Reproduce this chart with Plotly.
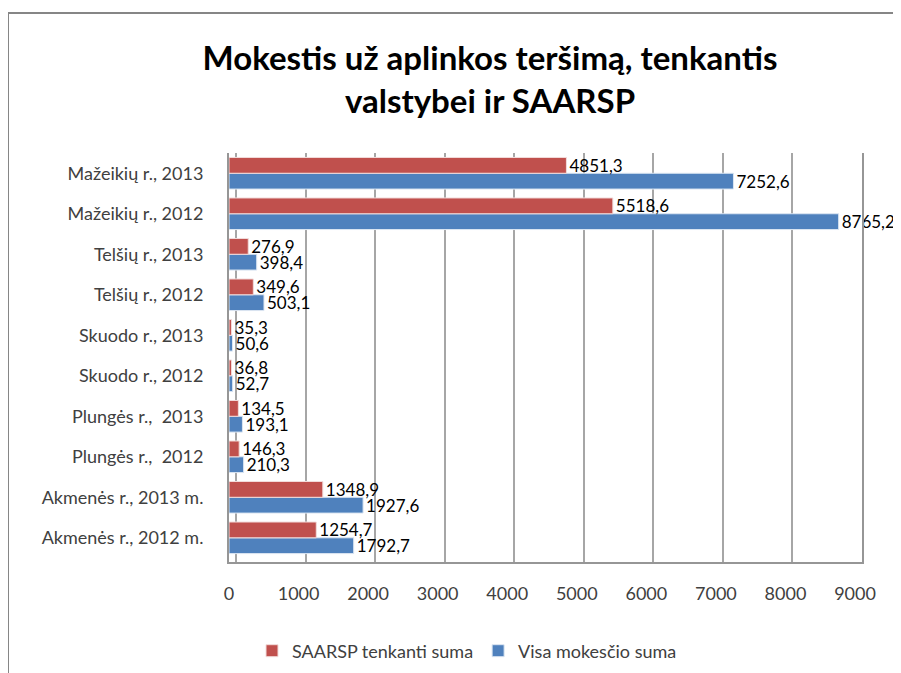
import plotly.graph_objects as go

categories = [
    "Akmenės r., 2012 m.", "Akmenės r., 2013 m.",
    "Plungės r.,  2012", "Plungės r.,  2013",
    "Skuodo r., 2012", "Skuodo r., 2013",
    "Telšių r., 2012", "Telšių r., 2013",
    "Mažeikių r., 2012", "Mažeikių r., 2013",
]
saarsp = [1254.7, 1348.9, 146.3, 134.5, 36.8, 35.3, 349.6, 276.9, 5518.6, 4851.3]
visa = [1792.7, 1927.6, 210.3, 193.1, 52.7, 50.6, 503.1, 398.4, 8765.2, 7252.6]
tick_vals = [0, 1000, 2000, 3000, 4000, 5000, 6000, 7000, 8000, 9000]

def fmt(v):
    return f"{v:.1f}".replace(".", ",")

FONT = "Lato, Open Sans, sans-serif"

# page body has an 8px margin: figure origin sits at (8, 8) in the window
OFF = 8
FW, FH = 901 - OFF, 673 - OFF

# plot area in window pixels (front face: 0 at 229, 9000 at 855; back wall to 862)
X0, X9000, XBACK = 229, 855, 862
T, B = 153, 562
L, R = X0 - OFF, XBACK - OFF
T, B = T - OFF, B - OFF
W, H = R - L, B - T
k = (X9000 - X0) / 9000.0          # px per unit on front face
DEPTH = 7                          # back-wall offset in px
xmax_main = W / k
back_lo = -DEPTH / k

def px(x):
    return (x - OFF - L) / W

def py(y):
    return (B - (y - OFF)) / H

fig = go.Figure()
fig.add_trace(go.Bar(
    y=categories, x=visa, orientation="h", name="Visa mokesčio suma",
    marker=dict(color="#4F81BD", line=dict(color="#DCE6F2", width=1)),
    text=[fmt(v) for v in visa], textposition="outside", constraintext="none",
    textfont=dict(size=17, color="#000000", family=FONT),
    cliponaxis=False, legendrank=2,
))
fig.add_trace(go.Bar(
    y=categories, x=saarsp, orientation="h", name="SAARSP tenkanti suma",
    marker=dict(color="#C0504D", line=dict(color="#F2DCDB", width=1)),
    text=[fmt(v) for v in saarsp], textposition="outside", constraintext="none",
    textfont=dict(size=17, color="#000000", family=FONT),
    cliponaxis=False, legendrank=1,
))

fig.update_layout(
    width=FW, height=FH,
    margin=dict(l=L, r=FW - R, t=T, b=FH - B, autoexpand=False),
    paper_bgcolor="white", plot_bgcolor="white",
    barmode="group", bargap=0.22, bargroupgap=0.0,
    font=dict(family=FONT, color="#404040", size=18),
    title=dict(
        text="Mokestis už aplinkos teršimą, tenkantis<br>valstybei ir SAARSP",
        x=(490 - OFF) / FW, xanchor="center",
        y=1 - (70 - OFF) / FH, yanchor="middle",
        font=dict(size=33, color="#000000", family=FONT, weight="bold"),
    ),
    xaxis=dict(
        range=[0, xmax_main], tickvals=tick_vals, ticktext=[str(v) for v in tick_vals],
        showgrid=False,
        showline=True, linecolor="#969696", linewidth=2, mirror=False,
        zeroline=False, ticks="", ticklabelstandoff=14, automargin=False,
        tickfont=dict(size=18, color="#404040"),
    ),
    xaxis2=dict(
        overlaying="x", side="top", range=[back_lo, 9000],
        tickvals=tick_vals, showticklabels=False, ticks="",
        showgrid=True, gridcolor="#A6A6A6", gridwidth=1.5,
        showline=False, zeroline=False, automargin=False,
    ),
    yaxis=dict(
        categoryorder="array", categoryarray=categories,
        showline=True, linecolor="#969696", linewidth=2, mirror=True,
        ticks="", ticklabelstandoff=20, automargin=False,
        tickfont=dict(size=18, color="#404040"),
    ),
    legend=dict(
        orientation="h", x=px(467), xanchor="center", y=py(651), yanchor="middle",
        font=dict(size=18, color="#404040"), itemwidth=30,
    ),
    showlegend=True,
)

# invisible trace to activate the back-wall grid axis
fig.add_trace(go.Scatter(x=[0], y=[categories[0]], xaxis="x2", mode="markers",
                         marker=dict(opacity=0), showlegend=False, hoverinfo="skip"))

# outer chart frame
fig.add_shape(type="line", xref="paper", yref="paper",
              x0=px(8), x1=px(901), y0=py(13), y1=py(13),
              line=dict(color="#868686", width=2))
fig.add_shape(type="line", xref="paper", yref="paper",
              x0=px(8), x1=px(8), y0=py(13), y1=py(673),
              line=dict(color="#868686", width=2))

fig.write_html("out.html")
